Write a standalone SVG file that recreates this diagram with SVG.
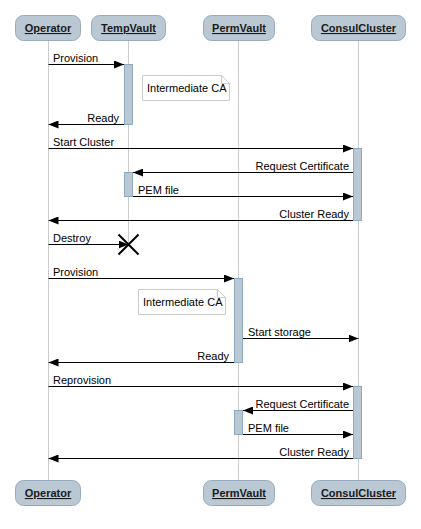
<svg xmlns="http://www.w3.org/2000/svg" width="421" height="529" viewBox="0 0 421 529">
<style>
.hdr{fill:#bac8d3;stroke:#96aac0;stroke-width:1}
.hl{font-family:"Liberation Sans",Arial,sans-serif;font-size:11px;font-weight:bold;text-decoration:underline;fill:#1a1a1a;text-anchor:middle}
.life{stroke:#cccccc;stroke-width:1;fill:none}
.act{fill:#bac8d3;stroke:#8fa8c2;stroke-width:1}
.msg{stroke:#000;stroke-width:1;fill:none;marker-end:url(#ah)}
.t{font-family:"Liberation Sans",Arial,sans-serif;font-size:11px;fill:#000}
.r{text-anchor:end}
.note{fill:#fff;stroke:#cccccc;stroke-width:1}
.fold{fill:none;stroke:#cccccc;stroke-width:1}
</style>
<defs>
<marker id="ah" viewBox="0 0 10 8" refX="10" refY="4" markerWidth="10" markerHeight="8" markerUnits="userSpaceOnUse" orient="auto">
<path d="M0,0 L10,4 L0,8 Z" fill="#000"/>
</marker>
</defs>
<rect width="421" height="529" fill="#fff"/>
<g id="lifelines">
<line class="life" x1="48.5" y1="40" x2="48.5" y2="480"/>
<line class="life" x1="128.5" y1="40" x2="128.5" y2="244"/>
<line class="life" x1="238.5" y1="40" x2="238.5" y2="480"/>
<line class="life" x1="358.5" y1="40" x2="358.5" y2="480"/>
</g>
<g id="Operator">
<rect class="hdr" x="15.5" y="15.5" width="65" height="25" rx="8"/>
<text class="hl" x="48" y="32">Operator</text>
</g>
<g id="TempVault">
<rect class="hdr" x="91.5" y="15.5" width="74" height="25" rx="8"/>
<text class="hl" x="128.5" y="32">TempVault</text>
</g>
<g id="PermVault">
<rect class="hdr" x="203.5" y="15.5" width="71" height="25" rx="8"/>
<text class="hl" x="239" y="32">PermVault</text>
</g>
<g id="ConsulCluster">
<rect class="hdr" x="311.5" y="15.5" width="94" height="25" rx="8"/>
<text class="hl" x="358.5" y="32">ConsulCluster</text>
</g>
<g id="Operator-bottom">
<rect class="hdr" x="15.5" y="480.5" width="65" height="25" rx="8"/>
<text class="hl" x="48" y="497">Operator</text>
</g>
<g id="PermVault-bottom">
<rect class="hdr" x="203.5" y="480.5" width="71" height="25" rx="8"/>
<text class="hl" x="239" y="497">PermVault</text>
</g>
<g id="ConsulCluster-bottom">
<rect class="hdr" x="311.5" y="480.5" width="94" height="25" rx="8"/>
<text class="hl" x="358.5" y="497">ConsulCluster</text>
</g>
<g id="activations">
<rect class="act" x="124.5" y="64.5" width="8" height="60"/>
<rect class="act" x="353.5" y="148.5" width="8" height="72"/>
<rect class="act" x="124.5" y="172.5" width="8" height="24"/>
<rect class="act" x="234.5" y="278.5" width="8" height="84"/>
<rect class="act" x="353.5" y="386.5" width="8" height="72"/>
<rect class="act" x="234.5" y="410.5" width="8" height="24"/>
</g>
<g id="note1">
<path class="note" d="M142.5,75.5 H221.5 L229.5,83.5 V100.5 H142.5 Z"/>
<path class="fold" d="M221.5,75.5 V83.5 H229.5"/>
<text class="t" x="147" y="92">Intermediate CA</text>
</g>
<g id="note2">
<path class="note" d="M138.5,289.5 H217.5 L225.5,297.5 V314.5 H138.5 Z"/>
<path class="fold" d="M217.5,289.5 V297.5 H225.5"/>
<text class="t" x="143" y="306">Intermediate CA</text>
</g>
<g id="connectors">
<line class="msg" x1="48.5" y1="64.5" x2="124" y2="64.5"/>
<line class="msg" x1="124" y1="124.5" x2="48.5" y2="124.5"/>
<line class="msg" x1="48.5" y1="148.5" x2="353" y2="148.5"/>
<line class="msg" x1="353" y1="172.5" x2="133" y2="172.5"/>
<line class="msg" x1="133" y1="196.5" x2="353" y2="196.5"/>
<line class="msg" x1="353" y1="220.5" x2="48.5" y2="220.5"/>
<line class="msg" x1="48.5" y1="244.5" x2="128.5" y2="244.5"/>
<path d="M118.5,234.5 L138.5,254.5 M138.5,234.5 L118.5,254.5" stroke="#000" stroke-width="2" fill="none"/>
<line class="msg" x1="48.5" y1="278.5" x2="234" y2="278.5"/>
<line class="msg" x1="243" y1="338.5" x2="358.5" y2="338.5"/>
<line class="msg" x1="234" y1="362.5" x2="48.5" y2="362.5"/>
<line class="msg" x1="48.5" y1="386.5" x2="353" y2="386.5"/>
<line class="msg" x1="353" y1="410.5" x2="243" y2="410.5"/>
<line class="msg" x1="243" y1="434.5" x2="353" y2="434.5"/>
<line class="msg" x1="353" y1="458.5" x2="48.5" y2="458.5"/>
</g>
<g id="labels">
<text class="t" x="53" y="62">Provision</text>
<text class="t r" x="119" y="122">Ready</text>
<text class="t" x="53" y="146">Start Cluster</text>
<text class="t r" x="349" y="170">Request Certificate</text>
<text class="t" x="138" y="194">PEM file</text>
<text class="t r" x="349" y="218">Cluster Ready</text>
<text class="t" x="53" y="242">Destroy</text>
<text class="t" x="53" y="276">Provision</text>
<text class="t" x="248" y="336">Start storage</text>
<text class="t r" x="229" y="360">Ready</text>
<text class="t" x="53" y="384">Reprovision</text>
<text class="t r" x="349" y="408">Request Certificate</text>
<text class="t" x="248" y="432">PEM file</text>
<text class="t r" x="349" y="456">Cluster Ready</text>
</g>
</svg>
